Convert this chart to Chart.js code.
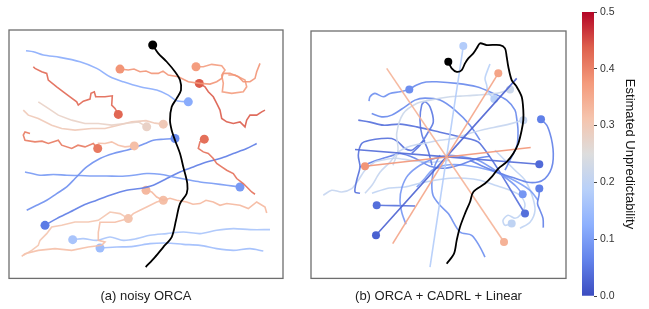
<!DOCTYPE html>
<html lang="en">
<head>
<meta charset="UTF-8">
<title>Estimated Unpredictability</title>
<script src="https://cdn.jsdelivr.net/npm/chart.js"></script>
<style>
  body { margin: 0; background: #fff; }
  #wrap { position: relative; width: 649px; height: 309px; }
  canvas { position: absolute; top: 0; }
</style>
</head>
<body>
<div id="wrap">
  <canvas id="orcaChart" width="300" height="309" style="left:0"></canvas>
  <canvas id="mixChart" width="276" height="309" style="left:300px"></canvas>
  <canvas id="barChart" width="89" height="309" style="left:560px"></canvas>
</div>
<script>
// positions (panel units); the first point of a track is the agent's dot
const orcaRobot = [[152.7,45],[158.3,53.3],[166.7,61.7],[175,71.7],[180,80],[181,90],[176.7,98.3],[171.7,106.7],[170,120],[171.7,130],[175,140],[180,153.3],[183.3,166.7],[187.3,183.3],[186.7,193.3],[180,203.3],[176,220],[171.7,236.7],[163.3,246.7],[155,256.7],[145.7,266.7]];
const orcaTracks = [
  [[188.3,101.7],[176.7,100.7],[168.3,95],[156.7,90],[140,86.7],[123.3,81.7],[110,76.7],[96.7,68.3],[80,61.7],[60,57.3],[43.3,55],[33.3,51.7],[26,50.7]],
  [[118.3,114.3],[115,108.3],[111.7,105],[112.3,95.7],[105,96.7],[95.7,96.7],[94.3,91.7],[91,93.3],[90,99],[83.3,101],[78.3,105],[76.7,101.7],[70,96.7],[63.3,91.7],[56.7,86.7],[48.3,80],[46.7,73.3],[41.7,71.7],[35,68.3],[33.3,66.7]],
  [[120,69],[128.3,70],[134,69],[140,71.7],[146,71],[151.7,73.3],[158.3,73.3],[163,71],[168.3,75],[178.3,76.7],[188.3,81.7],[200,83.3],[210,84],[216.7,81.7],[221.7,78.3],[223.3,73.3],[230,73.3],[238.3,76.7],[243.3,81.7],[250,81.7],[255,78.3],[256.7,71.7],[260,63.3]],
  [[196,66.7],[203.3,66.7],[211.7,64.3],[221.7,65.7],[225,70],[221.7,75],[223.3,83.3],[222.3,91.7],[231.7,93.3],[243.3,91.7],[246.7,86.7],[245,80],[235,75],[228.3,75]],
  [[199.3,83.3],[205,86.7],[208.3,91.7],[213.3,96.7],[216.7,103.3],[220,110],[221.7,118.3],[226.7,121.7],[233.3,123.3],[240,121.7],[245,126.7],[246.7,120],[250,115],[256.7,115],[261.7,111.7],[265,110]],
  [[146.7,126.7],[138.3,121.7],[125,123.3],[111.7,125],[98.3,123.3],[85,123.3],[71.7,120],[58.3,115],[48.3,108.3],[38.3,101.7]],
  [[163.3,124],[155,123],[146,120.5],[131.7,121.7],[118.3,125],[105,128.3],[91.7,128.3],[75,130],[61.7,128.3],[51.7,125],[38.3,118.3],[28.3,115],[23.3,110]],
  [[97.7,148.3],[93.3,143.3],[85,146.7],[78,145],[71.7,148.3],[61.7,145],[58.3,140],[48.3,143.3],[42,141],[35,141.7],[25,140],[23.3,135],[25,131.7],[30,133.3]],
  [[134.3,145.7],[125,146.7],[118.3,145],[111.7,141.7],[105,143.3],[97.7,143]],
  [[175,138.3],[163.3,139],[153.3,140],[145,143.3],[136.7,146.7],[126.7,150],[113.3,153.3],[100,158.3],[86.7,166.7],[75,178.3],[66.7,186.7],[56.7,193.3],[46.7,200],[36.7,205],[26.7,210]],
  [[204.3,139],[200,141.7],[198.3,148.3],[203.3,151.7],[208.3,153.3],[213.3,158.3],[216.7,163.3],[221.7,166.7],[226.7,170],[233.3,173.3],[236.7,178.3],[243.3,183.3],[248.3,188.3],[251.7,191.7],[255,194]],
  [[240,186.7],[226.7,185],[213.3,183.3],[200,181.7],[186.7,179.3],[173.3,176.7],[160,174],[146.7,173.3],[133.3,175],[120,176],[106.7,175.7],[93.3,175.7],[80,175.3],[66.7,175],[53.3,174.3],[40,175],[25,171.7]],
  [[45,225],[56.7,218.3],[70,211.7],[83.3,205],[96.7,200],[110,195],[126.7,190],[140,188.3],[153.3,185],[166.7,178.3],[180,171.7],[193.3,166.7],[206.7,161.7],[220,158.3],[233.3,153.3],[246.7,148.3],[256.7,143.3]],
  [[146,190],[151.7,191.7],[156.7,196.7],[163.3,200],[170,198],[176.7,200],[186.7,201.7],[193,204],[200,203.3],[206,200],[213.3,201.7],[220,205],[226.7,203.3],[240,205],[248.3,208.3],[256.7,201.7],[265,206.7],[266.7,212.7]],
  [[128.3,218.3],[120,213.3],[110,211.7],[98.3,220],[88.3,221.7],[75,221.7],[61.7,225],[51.7,226.7],[46.7,233.3],[40,240],[38.3,245],[31.7,250],[23.3,255]],
  [[163.3,200],[156.7,201.7],[146.7,206.7],[140,210],[133.3,213.3],[128.3,218.3],[115,222],[100,222],[98.3,232],[98.3,240],[105,241.7],[101.7,245],[88.3,246.7],[71.7,250],[55,248.3],[38.3,250],[25,253.3],[21.7,256]],
  [[72.7,239.3],[83.3,238.3],[96.7,240],[110,236.7],[123.3,240],[136.7,238.3],[150,235],[166.7,233.3],[183.3,231.7],[200,233.3],[216.7,230],[233.3,228.3],[250,229.3],[270,229.3]],
  [[100,247.7],[116.7,246.7],[133.3,246],[150,243.3],[166.7,242.7],[183.3,244],[200,245],[216.7,248.3],[233.3,250],[250,248.3],[263.3,250.7]]
];
const orcaValues = [0.12, 0.43, 0.38, 0.37, 0.44, 0.28, 0.3, 0.41, 0.32, 0.08, 0.42, 0.095, 0.055, 0.33, 0.31, 0.32, 0.165, 0.15];

const mixRobot = [[448.3,61.7],[451.7,68.3],[456.7,71.7],[461.7,70],[465,63.3],[468.3,58.3],[473.3,53.3],[476.7,48.3],[480,43.3],[486.7,45],[500,45],[505,48.3],[506.7,56.7],[508.3,66.7],[511.7,80],[516.7,86.7],[521.7,96.7],[523.3,110],[523.3,120],[521.7,130],[518.3,143.3],[513.3,153.3],[506.7,161.7],[498.3,168.3],[491.7,176.7],[485,183.3],[473.3,191.7],[470,201.7],[465,213.3],[460,226.7],[456.7,240],[454,253.3],[446.7,263.3]];
const mixTracks = [
  [[498.3,73.3],[392.7,243.3]],
  [[504,241.7],[386.7,68.3]],
  [[365,166],[530.7,147.3]],
  [[463.3,46],[430,266.7]],
  [[376,235],[516.7,78.3]],
  [[539.3,164],[355,149.3]],
  [[409.3,89.3],[400,91.7],[390,93.3],[383.3,96.7],[375,93.3],[370,96.7],[369,101]],
  [[494.3,99],[488,92],[486.7,85],[485,78.3],[488.3,68.3],[490,64]],
  [[510,89.3],[496.7,93.3],[476.7,95],[460,96],[450,96.7],[430,100],[416.7,103.3],[403.3,113.3],[396.7,133.3],[398,150],[393,165]],
  [[541,119],[546.7,125],[550,133.3],[552.3,143.3],[553.3,153.3],[552.7,163.3],[550,171.7],[545,178.3],[538.3,181.7],[528,182],[515,178],[500,173],[485,167],[470,160]],
  [[523.3,120],[513,123],[500,126],[485,129],[470,133],[455,138],[440,140],[425,143],[410,146],[398,152],[390,162],[380,172],[372,185],[365,193]],
  [[522.7,194],[516,186],[505,177],[492,168],[478,160],[465,157],[450,155],[435,158],[420,165],[408,175],[402,187],[400,200],[402,213],[406,224]],
  [[539.3,188.3],[539,195],[537.5,203.3],[540,210],[543,218],[543.3,227.3]],
  [[525,213.3],[480,143.3],[460,136.7],[440,132],[416.7,126.7],[400,124],[383.3,125],[370,122],[358.3,120]],
  [[511.7,223.3],[505,225],[503,220],[508,215],[515,218],[520,215],[525,205],[520,195],[510,190],[495,185],[480,180],[465,178],[450,178],[435,180],[420,183],[405,186.7],[388,188],[372,193]],
  [[376.7,205],[395,205.3],[415,205.7]]
];
const mixValues = [0.36, 0.34, 0.38, 0.18, 0.025, 0.035, 0.08, 0.19, 0.22, 0.06, 0.21, 0.09, 0.06, 0.04, 0.2, 0.04];
// trails whose agent dot is hidden under other marks
const mixTrails = [
  [[409.3,89.3],[416.7,85],[426,82],[436.7,81.7],[456.7,83.3],[476.7,86.7],[493.3,93.3],[506.7,100],[515,110],[516.7,118.3],[518,130],[517,145],[510,160],[505,170]],
  [[371.7,113.3],[381.7,116.7],[391.7,115],[405,106.7],[415,100],[425,98],[440,100],[455,110],[470,125],[480,140]],
  [[360,193],[355,191.7],[356.7,180],[360,166.7],[358.3,155],[361.7,143.3],[370,140],[381.7,138.3],[391.7,138.3],[398,141.7],[405,148.3],[411.7,150],[418.3,145],[425,140]],
  [[411.7,153.3],[420,145],[428.3,131.7],[433.3,121.7],[430,106.7],[425,101.7],[421.7,105],[420,120],[422,135],[428,150],[432,165]],
  [[485,256.7],[480,246.7],[471.7,235],[460,231.7],[448.3,213.3],[440,205],[433,195],[432,180],[435,165],[440,155]],
  [[323.3,195],[331.7,190],[341.7,191.7],[351.7,188.3],[358.3,180],[365,170],[375,161.7],[381.7,160],[395,158],[410,160],[430,162],[450,160]],
  [[360,166.7],[376.7,160],[390,156],[400,153.3],[415,158],[430,166],[445,168],[462,164],[478,158],[490,156]],
  [[416.7,186.7],[425,178],[432,170],[445,165],[465,165],[490,170],[510,178],[530,190],[538,200]],
  [[495,150],[505,160],[515,170],[525,180],[532,195],[535,210],[530,222],[520,228]]
];
const mixTrailValues = [0.07, 0.07, 0.04, 0.05, 0.08, 0.21, 0.06, 0.1, 0.2];

const cbarTicks = [0, 0.1, 0.2, 0.3, 0.4, 0.5];
const cbarMax = 0.5;

Chart.defaults.font.family = 'Liberation Sans, Arial, sans-serif';

// coolwarm colormap stops
const coolwarm = [[59,76,192],[98,130,234],[141,176,254],[184,208,249],[221,221,221],[245,196,173],[244,154,123],[222,96,77],[180,4,38]];
function cmap(v, a) {
  const t = Math.min(Math.max(v / cbarMax, 0), 1) * 8;
  const i = Math.min(Math.floor(t), 7), f = t - i;
  const c = coolwarm[i].map((x, k) => Math.round(x + (coolwarm[i + 1][k] - x) * f));
  return `rgba(${c[0]},${c[1]},${c[2]},${a})`;
}

function trackSet(track, color, dotColor, radius, width, tension) {
  return {
    data: track.map(([x, y]) => ({ x, y })),
    showLine: true,
    borderColor: color,
    borderWidth: width,
    tension: tension,
    pointBackgroundColor: dotColor,
    pointBorderWidth: 0,
    pointRadius: ctx => ctx.dataIndex === 0 ? radius : 0,
    pointHoverRadius: 0
  };
}

function buildSets(robot, tracks, values, trails, trailValues, radius) {
  const sets = [trackSet(robot, '#000', '#000', radius, 1.8, 0.3)];
  // noisy (warm) walkers look jagged, calm ones smooth
  tracks.forEach((t, i) => sets.push(trackSet(t, cmap(values[i], 0.9), cmap(values[i], 1), radius, 1.6, values[i] > 0.25 ? 0 : 0.3)));
  trails.forEach((t, i) => sets.push(trackSet(t, cmap(trailValues[i], 0.9), cmap(trailValues[i], 1), 0, 1.6, 0.3)));
  return sets;
}

const frame = {
  id: 'frame',
  afterDraw(chart) {
    const { ctx, chartArea: a } = chart;
    ctx.save();
    ctx.strokeStyle = '#6e6e6e';
    ctx.lineWidth = 1.3;
    ctx.strokeRect(a.left, a.top, a.right - a.left, a.bottom - a.top);
    ctx.restore();
  }
};

function panelOptions(xr, yr, caption, pad) {
  return {
    responsive: false,
    animation: false,
    layout: { padding: pad },
    plugins: { legend: { display: false }, tooltip: { enabled: false } },
    scales: {
      x: {
        type: 'linear', min: xr[0], max: xr[1],
        grid: { display: false, drawTicks: false }, border: { display: false }, ticks: { display: false },
        title: { display: true, text: caption, color: '#222', font: { size: 13 }, padding: { top: 10, bottom: 0 } }
      },
      y: {
        type: 'linear', reverse: true, min: yr[0], max: yr[1],
        grid: { display: false, drawTicks: false }, border: { display: false }, ticks: { display: false }
      }
    }
  };
}

new Chart(document.getElementById('orcaChart'), {
  type: 'scatter',
  data: { datasets: buildSets(orcaRobot, orcaTracks, orcaValues, [], [], 4.5) },
  options: panelOptions([9, 283], [30, 278], '(a) noisy ORCA', { left: 9, right: 17, top: 30, bottom: 5 }),
  plugins: [frame]
});

new Chart(document.getElementById('mixChart'), {
  type: 'scatter',
  data: { datasets: buildSets(mixRobot, mixTracks, mixValues, mixTrails, mixTrailValues, 4) },
  options: panelOptions([311, 566], [31, 278], '(b) ORCA + CADRL + Linear', { left: 11, right: 10, top: 31, bottom: 5 }),
  plugins: [frame]
});

// colour bar
new Chart(document.getElementById('barChart'), {
  type: 'bar',
  data: {
    labels: [''],
    datasets: [{
      data: [cbarMax],
      borderWidth: 0,
      barPercentage: 1,
      categoryPercentage: 1,
      backgroundColor: ctx => {
        const { ctx: c, chartArea } = ctx.chart;
        if (!chartArea) return null;
        const g = c.createLinearGradient(0, chartArea.bottom, 0, chartArea.top);
        coolwarm.forEach((_, i) => g.addColorStop(i / 8, cmap(cbarMax * i / 8, 1)));
        return g;
      }
    }]
  },
  options: {
    responsive: false,
    animation: false,
    layout: { padding: { left: 22, right: 0, top: 12, bottom: 13 } },
    plugins: { legend: { display: false }, tooltip: { enabled: false } },
    scales: {
      x: { display: false },
      y: {
        position: 'right', min: 0, max: cbarMax,
        afterFit: s => { s.width = 55; },
        afterBuildTicks: s => { s.ticks = cbarTicks.map(v => ({ value: v })); },
        ticks: { callback: v => v.toFixed(1), color: '#333', font: { size: 10.5 }, padding: 3 },
        grid: { drawOnChartArea: false, drawTicks: true, tickLength: 3, color: '#444' },
        border: { display: false },
        title: { display: true, text: 'Estimated Unpredictability', color: '#111', font: { size: 13 }, padding: { top: 12, bottom: 0 } }
      }
    }
  }
});
</script>
</body>
</html>
